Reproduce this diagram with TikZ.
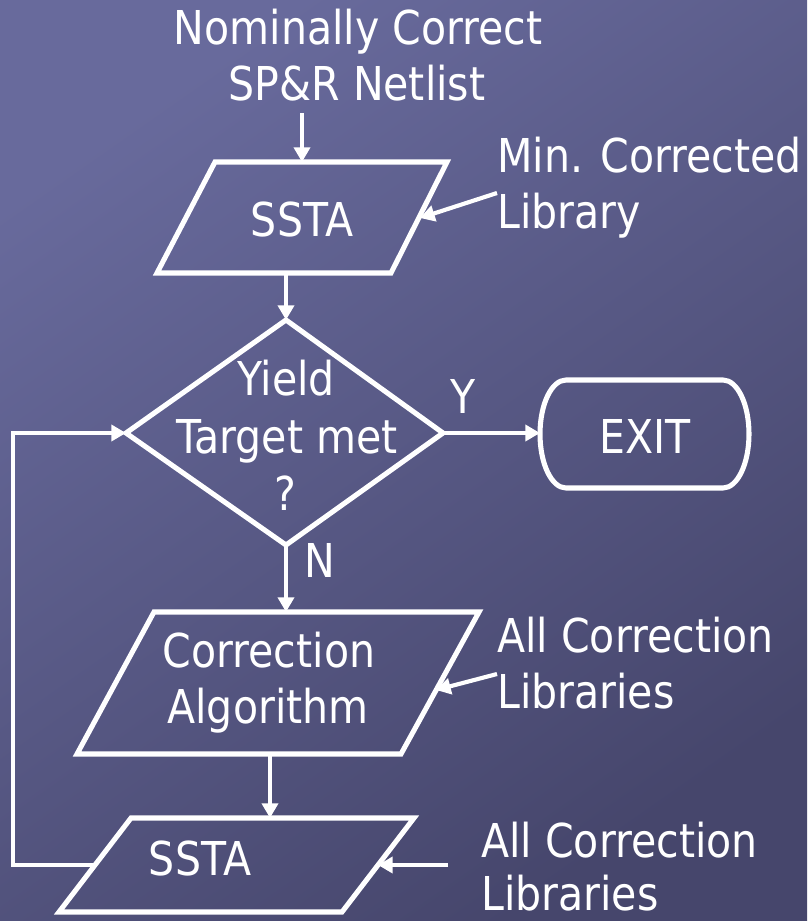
\documentclass[tikz,border=0pt]{standalone}
\usepackage{fontspec}
\setmainfont[FakeStretch=0.88]{DejaVu Sans}
\usetikzlibrary{arrows.meta}
\definecolor{bgA}{RGB}{104,106,156}
\definecolor{bgB}{RGB}{70,70,108}
\begin{document}
\begin{tikzpicture}[x=0.75pt,y=-0.75pt,
  box/.style={draw=white,line width=3.8pt,line join=miter},
  conn/.style={draw=white,line width=3.1pt,-{Triangle[length=11pt,width=12pt]}},
  lbl/.style={text=white,font=\fontsize{35}{40}\selectfont,inner sep=0pt,anchor=base},
  lbll/.style={lbl,anchor=base west}]
\useasboundingbox (0,0) rectangle (807,921);
\shade[left color=bgA,right color=bgB,shading angle=35] (0,0) rectangle (807,921);
% texts
\node[lbl] (t1) at (358,44) {Nominally Correct};
\node[lbl] (t2) at (357,100) {SP\&R Netlist};
\node[lbl] (s1) at (302,236) {SSTA};
\node[lbll] (m1) at (497,172) {Min. Corrected};
\node[lbll] (m2) at (497,228) {Library};
\node[lbl] (y1) at (286,395) {Yield};
\node[lbl] (y2) at (287,453) {Target met};
\node[lbl] (y3) at (285,510) {?};
\node[lbl] (ylab) at (463,413) {Y};
\node[lbl] (ex) at (645,453) {EXIT};
\node[lbll] (nlab) at (304,577) {N};
\node[lbl] (c1) at (269,667) {Correction};
\node[lbl] (c2) at (268,723) {Algorithm};
\node[lbll] (a1) at (497,652) {All Correction};
\node[lbll] (a2) at (497,708) {Libraries};
\node[lbl] (s2) at (200,875) {SSTA};
\node[lbll] (b1) at (481,857) {All Correction};
\node[lbll] (b2) at (481,910) {Libraries};
% shapes
\path[box] (215,162) -- (447,162) -- (391,273) -- (157,273) -- cycle;
\coordinate (p1top) at (302,162);
\coordinate (p1bot) at (286,273);
\coordinate (p1r) at (420,218);
\path[box] (286,320) coordinate (dt) -- (443,433) coordinate (dr) -- (286,545) coordinate (db) -- (126,433) coordinate (dl) -- cycle;
\path[box] (566,380) -- (723,380)
  .. controls (737.4,380) and (749,404.2) .. (749,434)
  .. controls (749,463.8) and (737.4,488) .. (723,488)
  -- (566,488)
  .. controls (551.6,488) and (540,463.8) .. (540,434)
  .. controls (540,404.2) and (551.6,380) .. (566,380) -- cycle;
\coordinate (exl) at (540,433);
\path[box] (154,612) -- (479,612) -- (401,754) -- (77,754) -- cycle;
\coordinate (p2top) at (286,612);
\coordinate (p2bot) at (270,754);
\coordinate (p2r) at (436,690);
\path[box] (131,818) -- (414,818) -- (342,912) -- (59,912) -- cycle;
\coordinate (p3top) at (270,818);
\coordinate (p3l) at (95,865);
\coordinate (p3r) at (378,865);
% free ends
\coordinate (in1) at (302,113);
\coordinate (lib1) at (497,193);
\coordinate (lib2) at (497,674);
\coordinate (lib3) at (448,865);
\coordinate (fbA) at (13,865);
\coordinate (fbB) at (13,433);
% connectors
\draw[conn] (in1) -- (p1top);
\draw[conn] (lib1) -- (p1r);
\draw[conn] (p1bot) -- (dt);
\draw[conn] (dr) -- (exl);
\draw[conn] (db) -- (p2top);
\draw[conn] (lib2) -- (p2r);
\draw[conn] (p2bot) -- (p3top);
\draw[conn] (lib3) -- (p3r);
\draw[conn] (p3l) -- (fbA) -- (fbB) -- (dl);
\end{tikzpicture}
\end{document}
